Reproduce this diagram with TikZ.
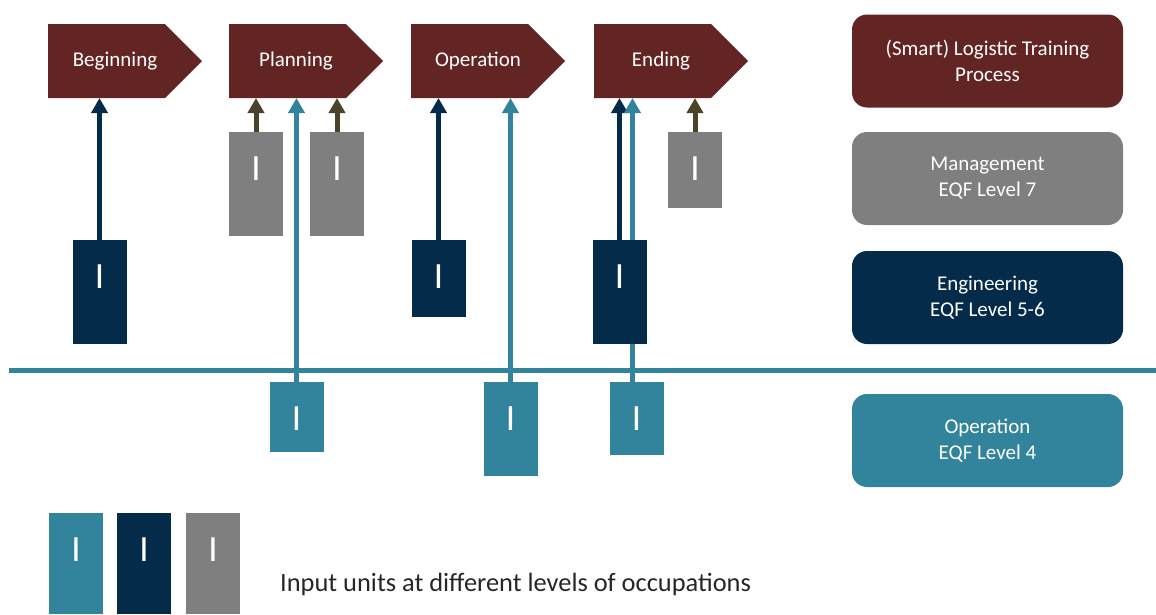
\documentclass[tikz,border=0pt]{standalone}
\usepackage{fontspec}
\setmainfont{Carlito}
\usetikzlibrary{shapes.symbols,arrows.meta,backgrounds}

\definecolor{procred}{HTML}{632523}
\definecolor{engblue}{HTML}{042C4A}
\definecolor{opteal}{HTML}{31849B}
\definecolor{mgmtgrey}{HTML}{7F7F7F}
\definecolor{mgmtarrow}{HTML}{494429}
\definecolor{keytext}{HTML}{262626}

\begin{document}
\begin{tikzpicture}[x=1pt,y=-1pt]
      \useasboundingbox (0,0) rectangle (1156,614);

      \begin{scope}[every node/.style={signal, signal to=east, fill=procred, text=white,
          minimum width=154pt, minimum height=74pt, inner sep=0pt, outer sep=0pt, anchor=west,
          font=\fontsize{21}{26}\selectfont, execute at begin node={\hspace{17pt}}}]
        \node (beg)  at (48,61)  {Beginning};
        \node (plan) at (229,61) {Planning};
        \node (oper) at (411,61) {Operation};
        \node (fin)  at (594,61) {Ending};
      \end{scope}

      \begin{scope}[every node/.style={rounded corners=15pt, text=white, minimum width=271pt,
          minimum height=93pt, align=center, font=\fontsize{21}{26}\selectfont}]
        \node[fill=procred]  (lproc) at (987.5,61)    {(Smart) Logistic Training\\Process};
        \node[fill=mgmtgrey] (lmgmt) at (987.5,178.5) {Management\\EQF Level 7};
        \node[fill=engblue]  (leng)  at (987.5,297.5) {Engineering\\EQF Level 5-6};
        \node[fill=opteal]   (lop)   at (987.5,440.5) {Operation\\EQF Level 4};
      \end{scope}

      \begin{scope}[every node/.style={text=white, minimum width=54pt, inner sep=0pt, outer sep=0pt,
          anchor=north, text height=48pt, font=\fontsize{37}{37}\selectfont}]
        \node[fill=engblue,  text depth=56pt] (e1) at (99.5,240) {I};
        \node[fill=mgmtgrey, text depth=56pt] (m1) at (256,132)  {I};
        \node[fill=mgmtgrey, text depth=56pt] (m2) at (337,132)  {I};
        \node[fill=opteal,   text depth=22pt] (o1) at (296.5,382) {I};
        \node[fill=engblue,  text depth=29pt] (e2) at (438.5,240) {I};
        \node[fill=opteal,   text depth=46pt] (o2) at (510.5,382) {I};
        \node[fill=engblue,  text depth=56pt] (e3) at (619.5,240) {I};
        \node[fill=opteal,   text depth=25pt] (o3) at (636.5,382) {I};
        \node[fill=mgmtgrey, text depth=28pt] (m3) at (695,132)  {I};

        \node[fill=opteal,   text depth=53pt] (k1) at (76,513)  {I};
        \node[fill=engblue,  text depth=53pt] (k2) at (144,513) {I};
        \node[fill=mgmtgrey, text depth=53pt] (k3) at (213,513) {I};
      \end{scope}

      \node[anchor=base west, inner sep=0pt, text=keytext, font=\fontsize{26.4}{30}\selectfont]
        (key) at (280,591) {Input units at different levels of occupations};

      \begin{scope}[on background layer]
        \coordinate (hl) at (9,370);
        \coordinate (hr) at (1156,370);
        \draw[opteal, line width=5pt] (hl) -- (hr);

        \begin{scope}[every edge/.style={draw, line width=5pt, -{Triangle[width=16pt,length=15pt]}}]
          \path (e1) edge[engblue] (e1 |- beg.south);
          \path (m1) edge[mgmtarrow] (m1 |- plan.south);
          \path (o1) edge[opteal] (o1 |- plan.south);
          \path (m2) edge[mgmtarrow] (m2 |- plan.south);
          \path (e2) edge[engblue] (e2 |- oper.south);
          \path (o2) edge[opteal] (o2 |- oper.south);
          \path (e3) edge[engblue] (e3 |- fin.south);
          \path ([xshift=-4pt]o3.north) edge[opteal] ([xshift=-4pt]o3.north |- fin.south);
          \path (m3) edge[mgmtarrow] (m3 |- fin.south);
        \end{scope}
      \end{scope}

    \end{tikzpicture}
\end{document}
